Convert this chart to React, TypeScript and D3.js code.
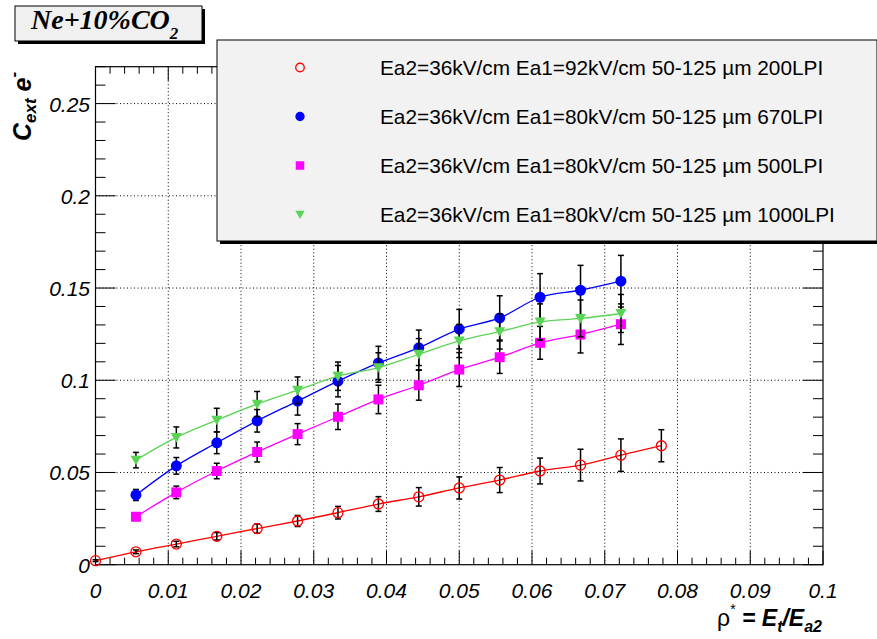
import React from "react";
import * as d3 from "d3";

const W = 877;
const H = 639;

const xTicks = [0, 0.01, 0.02, 0.03, 0.04, 0.05, 0.06, 0.07, 0.08, 0.09, 0.1];
const xTickLabels = ["0", "0.01", "0.02", "0.03", "0.04", "0.05", "0.06", "0.07", "0.08", "0.09", "0.1"];
const yTicks = [0, 0.05, 0.1, 0.15, 0.2, 0.25];
const yTickLabels = ["0", "0.05", "0.1", "0.15", "0.2", "0.25"];

// rho* = Et/Ea2 values (Et in steps of 0.2 kV/cm, Ea2 = 36 kV/cm)
const xRed = [0, 0.00556, 0.01111, 0.01667, 0.02222, 0.02778, 0.03333, 0.03889, 0.04444, 0.05, 0.05556, 0.06111, 0.06667, 0.07222, 0.07778];
const yRed = [0.0022, 0.007, 0.0112, 0.0154, 0.0196, 0.0237, 0.0282, 0.0329, 0.0368, 0.0416, 0.0459, 0.0508, 0.054, 0.0594, 0.0645];
const eRed = [0.0005, 0.001, 0.0015, 0.002, 0.0025, 0.003, 0.0034, 0.004, 0.005, 0.006, 0.0068, 0.007, 0.0086, 0.0088, 0.0087];

const xOther = [0.00556, 0.01111, 0.01667, 0.02222, 0.02778, 0.03333, 0.03889, 0.04444, 0.05, 0.05556, 0.06111, 0.06667, 0.07222];
const yBlue = [0.0378, 0.0536, 0.0661, 0.078, 0.0887, 0.0995, 0.1094, 0.1176, 0.1277, 0.1338, 0.145, 0.1488, 0.1537];
const eBlue = [0.003, 0.0045, 0.0059, 0.0061, 0.0076, 0.0085, 0.009, 0.0096, 0.0107, 0.012, 0.0128, 0.0135, 0.014];
const yMagenta = [0.026, 0.0392, 0.0508, 0.0611, 0.0708, 0.0802, 0.0896, 0.0973, 0.1058, 0.1125, 0.1203, 0.1248, 0.1304];
const eMagenta = [0.002, 0.0034, 0.0042, 0.0054, 0.0057, 0.0069, 0.0077, 0.0081, 0.0092, 0.0088, 0.0089, 0.01, 0.011];
const yGreen = [0.0567, 0.069, 0.0784, 0.0871, 0.0946, 0.1022, 0.1069, 0.1141, 0.1213, 0.1264, 0.1316, 0.1335, 0.1362];
const eGreen = [0.0042, 0.0057, 0.0064, 0.0068, 0.0072, 0.0077, 0.008, 0.0085, 0.009, 0.0095, 0.0098, 0.01, 0.0103];

const legendLabels = [
  ["Ea2=36kV/cm Ea1=92kV/cm 50-125 ", "200LPI"],
  ["Ea2=36kV/cm Ea1=80kV/cm 50-125 ", "670LPI"],
  ["Ea2=36kV/cm Ea1=80kV/cm 50-125 ", "500LPI"],
  ["Ea2=36kV/cm Ea1=80kV/cm 50-125 ", "1000LPI"],
];

const L = 95.5, R = 823, T = 66.7, B = 564.7;
const x = d3.scaleLinear().domain([0, 0.1]).range([L, R]);
const y = d3.scaleLinear().domain([0, 0.27]).range([B, T]);

type Series = { xs: number[]; ys: number[]; es: number[]; color: string; marker: string };

const series: Series[] = [
  { xs: xRed, ys: yRed, es: eRed, color: "#ff0000", marker: "open" },
  { xs: xOther, ys: yBlue, es: eBlue, color: "#0000ff", marker: "circle" },
  { xs: xOther, ys: yMagenta, es: eMagenta, color: "#ff00ff", marker: "square" },
  { xs: xOther, ys: yGreen, es: eGreen, color: "#59d454", marker: "triangle" },
];

function Marker({ kind, cx, cy, color, k = 1 }: { kind: string; cx: number; cy: number; color: string; k?: number }) {
  if (kind === "open") return <circle cx={cx} cy={cy} r={5 * k} fill="none" stroke={color} strokeWidth={1.3} />;
  if (kind === "circle") return <circle cx={cx} cy={cy} r={5.5 * k} fill={color} />;
  if (kind === "square") return <rect x={cx - 5 * k} y={cy - 5 * k} width={10 * k} height={10 * k} fill={color} />;
  const s = 5.5 * k;
  return <path d={`M${cx - s},${cy - s * 0.8} L${cx + s},${cy - s * 0.8} L${cx},${cy + s * 0.95} Z`} fill={color} />;
}

export default function App() {
  const line = d3.line<[number, number]>().x((d) => x(d[0])).y((d) => y(d[1])).curve(d3.curveMonotoneX);
  const xMinor = d3.range(0, 0.1001, 0.002);
  const yMinor = d3.range(0, 0.2701, 0.01);
  const sans = "'Liberation Sans', Arial, Helvetica, sans-serif";
  return (
    <svg width={W} height={H} style={{ position: "absolute", left: 0, top: 0, background: "#fff" }}>
      {/* grid */}
      {xTicks.slice(1, -1).map((t) => (
        <line key={"gx" + t} x1={x(t)} x2={x(t)} y1={T} y2={B} stroke="#000" strokeWidth={1} strokeDasharray="1 2.5" />
      ))}
      {yTicks.slice(1).map((t) => (
        <line key={"gy" + t} x1={L} x2={R} y1={y(t)} y2={y(t)} stroke="#000" strokeWidth={1} strokeDasharray="1 2.5" />
      ))}
      {/* ticks */}
      {xMinor.map((t, i) => {
        const major = i % 5 === 0;
        const len = major ? 14 : 7;
        return (
          <g key={"xt" + i}>
            <line x1={x(t)} x2={x(t)} y1={B} y2={B - len} stroke="#000" strokeWidth={1} />
            <line x1={x(t)} x2={x(t)} y1={T} y2={T + len} stroke="#000" strokeWidth={1} />
          </g>
        );
      })}
      {yMinor.map((t, i) => {
        const major = i % 5 === 0;
        const len = major ? 20 : 10;
        return (
          <g key={"yt" + i}>
            <line x1={L} x2={L + len} y1={y(t)} y2={y(t)} stroke="#000" strokeWidth={1} />
            <line x1={R} x2={R - len} y1={y(t)} y2={y(t)} stroke="#000" strokeWidth={1} />
          </g>
        );
      })}
      <rect x={L} y={T} width={R - L} height={B - T} fill="none" stroke="#000" strokeWidth={1.2} />
      {/* tick labels */}
      {xTicks.map((t, i) => (
        <text key={"xl" + t} x={x(t)} y={598} textAnchor="middle" fontFamily={sans} fontStyle="italic" fontSize={21}>
          {xTickLabels[i]}
        </text>
      ))}
      {yTicks.map((t, i) => (
        <text key={"yl" + t} x={90} y={y(t) + 8} textAnchor="end" fontFamily={sans} fontStyle="italic" fontSize={21}>
          {yTickLabels[i]}
        </text>
      ))}
      {/* axis titles */}
      <text x={822} y={626} textAnchor="end" fontFamily={sans} fontSize={23}>
        <tspan fontStyle="normal">ρ</tspan>
        <tspan fontSize={14} dy={-12}>*</tspan>
        <tspan dy={12} fontWeight="bold" fontStyle="italic"> = E</tspan>
        <tspan fontWeight="bold" fontStyle="italic" fontSize={16} dy={6}>t</tspan>
        <tspan fontWeight="bold" fontStyle="italic" dy={-6}>/E</tspan>
        <tspan fontWeight="bold" fontStyle="italic" fontSize={16} dy={6}>a2</tspan>
      </text>
      <text transform="translate(31,141) rotate(-90)" fontFamily={sans} fontWeight="bold" fontStyle="italic" fontSize={25}>
        <tspan>C</tspan>
        <tspan fontSize={17} dy={5}>ext</tspan>
        <tspan dy={-5}> e</tspan>
        <tspan fontSize={17} dy={-12}>-</tspan>
      </text>
      {/* data */}
      <g>
        {series.map((s, si) => {
          const pts: [number, number][] = s.xs.map((xv, i) => [xv, s.ys[i]]);
          return (
            <g key={"s" + si}>
              <path d={line(pts) || ""} fill="none" stroke={s.color} strokeWidth={1.3} />
              {pts.map((p, i) => {
                const cx = x(p[0]);
                const y1 = y(p[1] + s.es[i]);
                const y2 = y(p[1] - s.es[i]);
                return (
                  <g key={"e" + i} stroke="#000" strokeWidth={1.5}>
                    <line x1={cx} x2={cx} y1={y1} y2={y2} />
                    <line x1={cx - 3} x2={cx + 3} y1={y1} y2={y1} />
                    <line x1={cx - 3} x2={cx + 3} y1={y2} y2={y2} />
                  </g>
                );
              })}
              {pts.map((p, i) => (
                <Marker key={"m" + i} kind={s.marker} cx={x(p[0])} cy={y(p[1])} color={s.color} />
              ))}
            </g>
          );
        })}
      </g>
      {/* legend */}
      <rect x={220} y={43} width={660} height={201} fill="#000" />
      <rect x={217} y={40} width={660} height={201} fill="#f2f2f2" stroke="#000" strokeWidth={1} />
      {legendLabels.map((lab, i) => {
        const cy = 67.5 + i * 49;
        return (
          <g key={"lg" + i}>
            <Marker kind={series[i].marker} cx={300} cy={cy} color={series[i].color} k={0.85} />
            <text x={380} y={cy + 7} fontFamily={sans} fontSize={20.8}>
              {lab[0]}
              <tspan>µ</tspan>m {lab[1]}
            </text>
          </g>
        );
      })}
      {/* title box */}
      <rect x={18} y={9} width={187} height={35} fill="#000" />
      <rect x={15} y={6} width={187} height={35} fill="#f0f0f0" stroke="#000" strokeWidth={1} />
      <text x={31} y={29} fontFamily="'Liberation Serif', 'Times New Roman', serif" fontWeight="bold" fontStyle="italic" fontSize={28}>
        Ne+10%CO<tspan fontSize={17} dy={10}>2</tspan>
      </text>
    </svg>
  );
}
